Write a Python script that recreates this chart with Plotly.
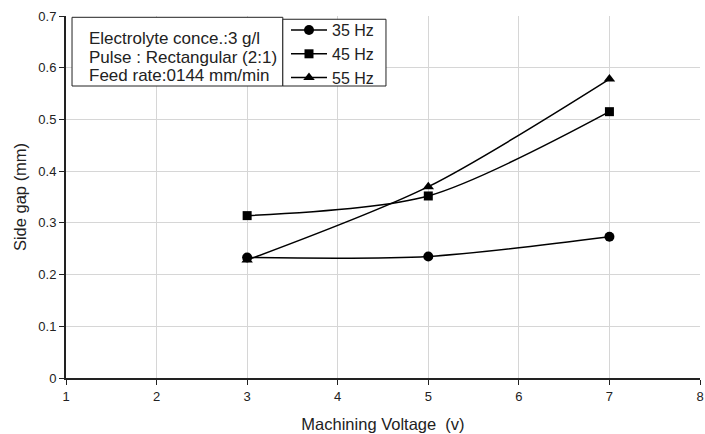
import plotly.graph_objects as go

# Machining voltage (V) and measured side gap (mm) per pulse frequency
voltage = [3, 5, 7]
gap_35hz = [0.233, 0.235, 0.273]
gap_45hz = [0.314, 0.352, 0.515]
gap_55hz = [0.228, 0.370, 0.578]

series = [
    ("35 Hz", gap_35hz, "circle", 10),
    ("45 Hz", gap_45hz, "square", 9),
    ("55 Hz", gap_55hz, "triangle-up", 10),
]

x_ticks = [1, 2, 3, 4, 5, 6, 7, 8]
y_ticks = [0, 0.1, 0.2, 0.3, 0.4, 0.5, 0.6, 0.7]
y_labels = ["0", "0.1", "0.2", "0.3", "0.4", "0.5", "0.6", "0.7"]

conditions = [
    "Electrolyte conce.:3 g/l",
    "Pulse : Rectangular (2:1)",
    "Feed rate:0144 mm/min",
]

font_family = "Liberation Sans, Arial, sans-serif"
ink = "#222"

fig = go.Figure()
for name, values, symbol, size in series:
    fig.add_trace(go.Scatter(
        x=voltage, y=values, name=name,
        mode="lines+markers",
        line=dict(color="black", width=1.5, shape="spline", smoothing=0.8),
        marker=dict(symbol=symbol, size=size, color="black"),
    ))

# Box holding the experimental conditions
fig.add_shape(type="rect", xref="paper", yref="paper",
              x0=0.0095, x1=0.342, y0=0.8066, y1=0.9964,
              line=dict(color=ink, width=1), fillcolor="white", layer="above")
for text, ypos in zip(conditions, [0.9365, 0.8867, 0.8343]):
    fig.add_annotation(
        xref="paper", yref="paper", x=0.0331, y=ypos,
        xanchor="left", yanchor="middle", align="left",
        text=text, showarrow=False,
        font=dict(family=font_family, size=17, color=ink),
    )

# Frame behind the legend entries
fig.add_shape(type="rect", xref="paper", yref="paper",
              x0=0.342, x1=0.5047, y0=0.8066, y1=0.991,
              line=dict(color=ink, width=1), fillcolor="white", layer="above")

fig.update_layout(
    width=705, height=434,
    margin=dict(l=66, r=5, t=16, b=56, autoexpand=False),
    paper_bgcolor="white", plot_bgcolor="white",
    font=dict(family=font_family, size=13, color=ink),
    showlegend=True,
    legend=dict(
        x=0.347, y=1.008, xanchor="left", yanchor="top",
        borderwidth=0, bgcolor="rgba(0,0,0,0)",
        font=dict(family=font_family, size=16, color=ink),
        tracegroupgap=0, itemwidth=36,
    ),
    xaxis=dict(
        range=[1, 8], tickvals=x_ticks, ticktext=[str(v) for v in x_ticks],
        showgrid=True, gridcolor="#d6d6d6", gridwidth=1,
        showline=True, linecolor=ink, linewidth=2,
        ticks="outside", ticklen=5, tickcolor=ink, automargin=False,
        title=dict(text="Machining Voltage  (v)", font=dict(size=16.5), standoff=16),
        zeroline=False,
    ),
    yaxis=dict(
        range=[0, 0.7], tickvals=y_ticks, ticktext=y_labels,
        showgrid=True, gridcolor="#d6d6d6", gridwidth=1,
        showline=True, linecolor=ink, linewidth=2,
        ticks="outside", ticklen=5, tickcolor=ink, automargin=False,
        title=dict(text="Side gap (mm)", font=dict(size=16.5), standoff=8),
        zeroline=False,
    ),
)

fig.write_html("out.html")
